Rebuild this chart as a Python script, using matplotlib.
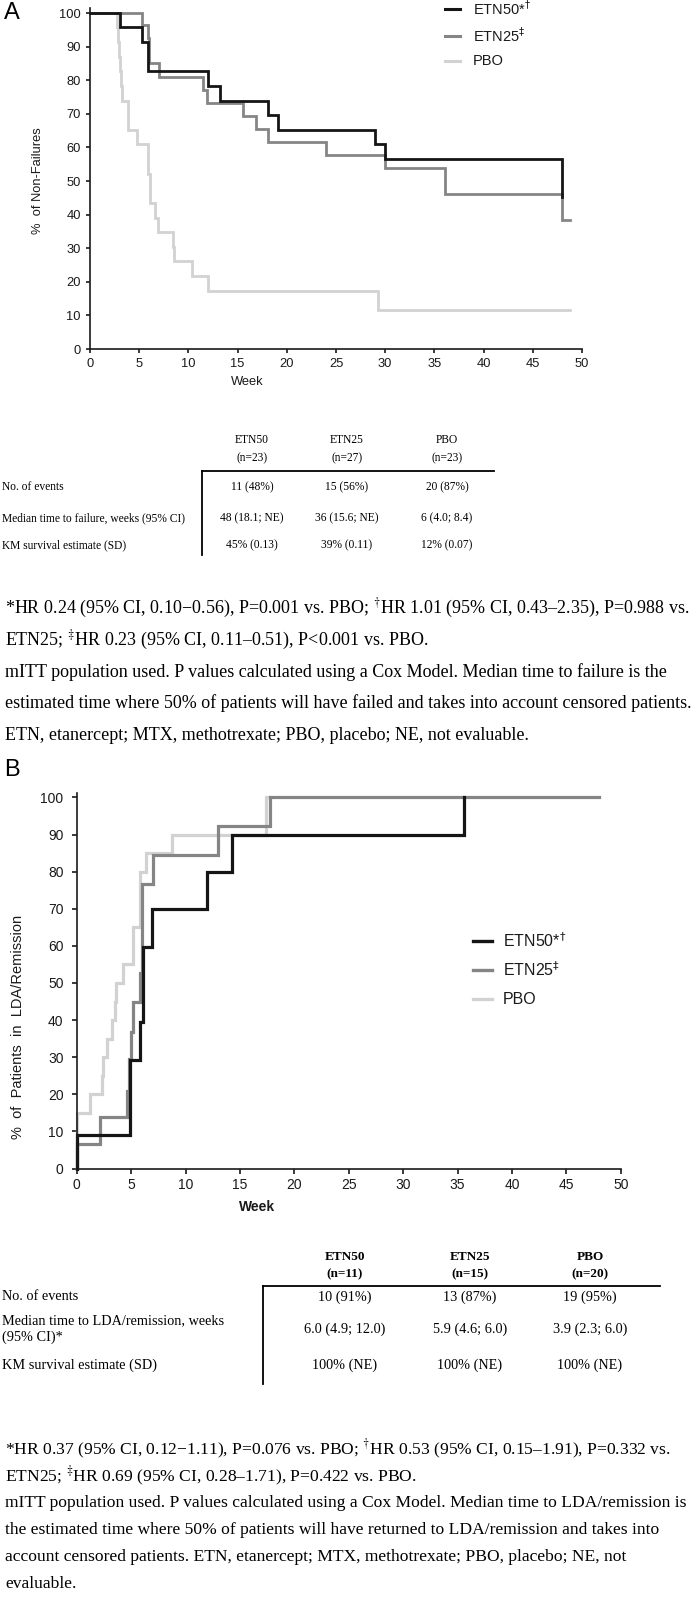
import matplotlib
matplotlib.use('Agg')
import matplotlib.pyplot as plt
from matplotlib.lines import Line2D

W, H = 696, 1598
DPI = 100
fig = plt.figure(figsize=(W / DPI, H / DPI), dpi=DPI)

SANS = 'Liberation Sans'
SERIF = 'Liberation Serif'

# ---------------- data ----------------
series_names = ['ETN50', 'ETN25', 'PBO']
legend_labels = [r'ETN50*$^{\dagger}$', r'ETN25$^{\ddagger}$', 'PBO']
colors = ['#151515', '#858585', '#d2d2d2']

# Panel A: % of non-failures (Kaplan-Meier), weeks
A_etn50_t = [0, 3.05, 5.25, 5.86, 11.96, 13.2, 18.1, 19.1, 28.96, 30.0, 48.0]
A_etn50_s = [100, 95.7, 91.3, 82.6, 78.3, 73.9, 69.6, 65.2, 60.9, 56.5, 45.2]
A_etn50_end = 48.0
A_etn25_t = [0, 5.32, 5.86, 5.95, 7.0, 11.5, 11.9, 15.5, 16.9, 18.1, 23.95, 30.0, 36.1, 48.0]
A_etn25_s = [100, 96.3, 92.6, 85.0, 81.0, 77.2, 73.3, 69.3, 65.5, 61.6, 57.7, 53.9, 46.2, 38.5]
A_etn25_end = 48.8
A_pbo_t = [0, 2.7, 2.85, 2.95, 3.05, 3.15, 3.3, 3.9, 4.8, 5.86, 6.1, 6.6, 6.9, 8.4, 8.5, 10.4, 12.0, 29.3]
A_pbo_s = [100, 95.7, 91.3, 87.0, 82.6, 78.3, 73.9, 65.2, 60.9, 52.2, 43.5, 39.1, 34.8, 30.4, 26.1, 21.7, 17.4, 11.6]
A_pbo_end = 48.8

# Panel B: % of patients in LDA/remission (cumulative), weeks
B_etn50_t = [0, 0, 4.9, 5.8, 6.05, 6.1, 6.9, 12.0, 14.3, 35.6]
B_etn50_s = [0, 9.1, 29.2, 39.5, 52.4, 59.8, 70.0, 80.0, 90.0, 100]
B_etn50_end = 35.6
B_etn25_t = [0, 0, 2.15, 4.6, 4.85, 5.0, 5.2, 5.8, 6.0, 7.0, 13.0, 17.8]
B_etn25_s = [0, 6.7, 13.9, 21.0, 29.5, 36.8, 45.0, 52.6, 76.8, 84.4, 92.4, 100]
B_etn25_end = 48.0
B_pbo_t = [0, 0, 1.2, 2.3, 2.4, 2.75, 3.2, 3.5, 3.6, 4.3, 5.2, 5.8, 6.4, 8.8, 17.4]
B_pbo_s = [0, 15, 20, 25, 30, 35, 40, 45, 50, 55, 65, 80, 85, 90, 100]
B_pbo_end = 17.8

x_ticks = [0, 5, 10, 15, 20, 25, 30, 35, 40, 45, 50]
y_ticks = [0, 10, 20, 30, 40, 50, 60, 70, 80, 90, 100]

# Table A
tabA_cols = ['ETN50\n(n=23)', 'ETN25\n(n=27)', 'PBO\n(n=23)']
tabA_rows = ['No. of events', 'Median time to failure, weeks (95% CI)', 'KM survival estimate (SD)']
tabA_vals = [['11 (48%)', '15 (56%)', '20 (87%)'],
             ['48 (18.1; NE)', '36 (15.6; NE)', '6 (4.0; 8.4)'],
             ['45% (0.13)', '39% (0.11)', '12% (0.07)']]

# Table B
tabB_cols = ['ETN50\n(n=11)', 'ETN25\n(n=15)', 'PBO\n(n=20)']
tabB_rows = ['No. of events', 'Median time to LDA/remission, weeks\n(95% CI)*', 'KM survival estimate (SD)']
tabB_vals = [['10 (91%)', '13 (87%)', '19 (95%)'],
             ['6.0 (4.9; 12.0)', '5.9 (4.6; 6.0)', '3.9 (2.3; 6.0)'],
             ['100% (NE)', '100% (NE)', '100% (NE)']]

notesA = [r'*HR 0.24 (95% CI, 0.10−0.56), P=0.001 vs. PBO; $^{\dagger}$HR 1.01 (95% CI, 0.43–2.35), P=0.988 vs.',
          r'ETN25; $^{\ddagger}$HR 0.23 (95% CI, 0.11–0.51), P<0.001 vs. PBO.',
          'mITT population used. P values calculated using a Cox Model. Median time to failure is the',
          'estimated time where 50% of patients will have failed and takes into account censored patients.',
          'ETN, etanercept; MTX, methotrexate; PBO, placebo; NE, not evaluable.']
notesB = [r'*HR 0.37 (95% CI, 0.12−1.11), P=0.076 vs. PBO; $^{\dagger}$HR 0.53 (95% CI, 0.15–1.91), P=0.332 vs.',
          r'ETN25; $^{\ddagger}$HR 0.69 (95% CI, 0.28–1.71), P=0.422 vs. PBO.',
          'mITT population used. P values calculated using a Cox Model. Median time to LDA/remission is',
          'the estimated time where 50% of patients will have returned to LDA/remission and takes into',
          'account censored patients. ETN, etanercept; MTX, methotrexate; PBO, placebo; NE, not',
          'evaluable.']


# ---------------- helpers ----------------
def fx(x):
    return x / W


def fy(y):
    return 1 - y / H


def ax_rect(l, r, t, b):
    return [l / W, 1 - b / H, (r - l) / W, (b - t) / H]


def hline(x1, x2, y, lw=1.3):
    fig.add_artist(Line2D([fx(x1), fx(x2)], [fy(y), fy(y)], transform=fig.transFigure,
                          color='black', lw=lw))


def vline(x, y1, y2, lw=1.3):
    fig.add_artist(Line2D([fx(x), fx(x)], [fy(y1), fy(y2)], transform=fig.transFigure,
                          color='black', lw=lw))


def style_axes(ax, ylim_top, tick_fs, ypad, xpad, ticklen):
    ax.set_xlim(0, 50)
    ax.set_ylim(0, ylim_top)
    ax.set_xticks(x_ticks)
    ax.set_yticks(y_ticks)
    for s in ['top', 'right']:
        ax.spines[s].set_visible(False)
    for s in ['left', 'bottom']:
        ax.spines[s].set_linewidth(1.2)
        ax.spines[s].set_color('#1a1a1a')
    ax.tick_params(axis='both', direction='out', length=ticklen, width=1.2, color='#1a1a1a',
                   labelsize=tick_fs)
    ax.tick_params(axis='y', pad=ypad)
    ax.tick_params(axis='x', pad=xpad)
    for lab in ax.get_xticklabels() + ax.get_yticklabels():
        lab.set_fontfamily(SANS)
        lab.set_color('#1a1a1a')
    ax.patch.set_alpha(0)


def draw_km(ax, t, s, end, color, lw):
    ax.step(list(t) + [end], list(s) + [s[-1]], where='post', color=color, lw=lw,
            solid_joinstyle='miter', clip_on=False)


# ---------------- Panel A ----------------
fig.text(fx(4), fy(13), 'A', fontsize=17, family=SANS, va='center', ha='left')
axA = fig.add_axes(ax_rect(90, 582, 8, 349))
style_axes(axA, 101.5, 9.3, 3.5, 3.5, 3)
draw_km(axA, A_pbo_t, A_pbo_s, A_pbo_end, colors[2], 2.0)
draw_km(axA, A_etn25_t, A_etn25_s, A_etn25_end, colors[1], 2.0)
draw_km(axA, A_etn50_t, A_etn50_s, A_etn50_end, colors[0], 2.0)
fig.text(fx(38), fy(181), '%  of Non-Failures', rotation=90, fontsize=9.3, family=SANS,
         ha='center', va='center', color='#1a1a1a')
fig.text(fx(247), fy(382), 'Week', fontsize=9.3, family=SANS, ha='center', va='center',
         color='#1a1a1a')

legA_y = [9, 36, 61]
for lab, col, y in zip(legend_labels, colors, legA_y):
    fig.add_artist(Line2D([fx(445), fx(460)], [fy(y), fy(y)], transform=fig.transFigure,
                          color=col, lw=2.2))
    fig.text(fx(473), fy(y), lab, fontsize=10.5, family=SANS, va='center', ha='left',
             math_fontfamily='dejavusans', color='#1a1a1a')

# Table A
colA_x = [252, 347, 447]
for cx, c in zip(colA_x, tabA_cols):
    l1, l2 = c.split('\n')
    fig.text(fx(cx), fy(440), l1, fontsize=8.3, family=SERIF, ha='center', va='center')
    fig.text(fx(cx), fy(458), l2, fontsize=8.3, family=SERIF, ha='center', va='center')
hline(202, 494, 471)
vline(202, 471, 555)
rowA_y = [487, 518, 545]
for ry, rl, vals in zip(rowA_y, tabA_rows, tabA_vals):
    fig.text(fx(2), fy(ry), rl, fontsize=8.3, family=SERIF, ha='left', va='center')
    for cx, v in zip(colA_x, vals):
        fig.text(fx(cx), fy(ry), v, fontsize=8.3, family=SERIF, ha='center', va='center')

notesA_y = [608, 640, 672, 703, 735]
for ny, t in zip(notesA_y, notesA):
    fig.text(fx(5), fy(ny), t, fontsize=13.0, family=SERIF, ha='left', va='center',
             math_fontfamily='stix')

# ---------------- Panel B ----------------
fig.text(fx(4), fy(770), 'B', fontsize=17, family=SANS, va='center', ha='left')
axB = fig.add_axes(ax_rect(76.7, 620.7, 793, 1168.5))
style_axes(axB, 101.2, 10, 6, 3.5, 3.5)
draw_km(axB, B_pbo_t, B_pbo_s, B_pbo_end, colors[2], 2.3)
draw_km(axB, B_etn25_t, B_etn25_s, B_etn25_end, colors[1], 2.3)
draw_km(axB, B_etn50_t, B_etn50_s, B_etn50_end, colors[0], 2.3)
fig.text(fx(18), fy(1027), '%  of  Patients  in  LDA/Remission', rotation=90, fontsize=10.5,
         family=SANS, ha='center', va='center', color='#1a1a1a')
fig.text(fx(257), fy(1207), 'Week', fontsize=10, family=SANS, ha='center', va='center',
         fontweight='bold', color='#1a1a1a')

legB_y = [941, 970, 999]
for lab, col, y in zip(legend_labels, colors, legB_y):
    fig.add_artist(Line2D([fx(473), fx(492)], [fy(y), fy(y)], transform=fig.transFigure,
                          color=col, lw=2.4))
    fig.text(fx(503), fy(y), lab, fontsize=11.5, family=SANS, va='center', ha='left',
             math_fontfamily='dejavusans', color='#1a1a1a')

# Table B
colB_x = [345, 470, 590]
for cx, c in zip(colB_x, tabB_cols):
    l1, l2 = c.split('\n')
    fig.text(fx(cx), fy(1257), l1, fontsize=9.5, family=SERIF, ha='center', va='center',
             fontweight='bold')
    fig.text(fx(cx), fy(1274), l2, fontsize=9.5, family=SERIF, ha='center', va='center',
             fontweight='bold')
hline(263, 660, 1286)
vline(263, 1286, 1384)
rowB_y = [1297, 1329, 1365]
for i, (ry, rl, vals) in enumerate(zip(rowB_y, tabB_rows, tabB_vals)):
    if '\n' in rl:
        l1, l2 = rl.split('\n')
        fig.text(fx(2), fy(ry - 8.5), l1, fontsize=10.3, family=SERIF, ha='left', va='center')
        fig.text(fx(2), fy(ry + 8.5), l2, fontsize=10.3, family=SERIF, ha='left', va='center')
    else:
        fig.text(fx(2), fy(ry), rl, fontsize=10.3, family=SERIF, ha='left', va='center')
    for cx, v in zip(colB_x, vals):
        fig.text(fx(cx), fy(ry), v, fontsize=10.3, family=SERIF, ha='center', va='center')

notesB_y = [1449, 1476, 1503, 1530, 1557, 1584]
for ny, t in zip(notesB_y, notesB):
    fig.text(fx(5), fy(ny), t, fontsize=12.6, family=SERIF, ha='left', va='center',
             math_fontfamily='stix')

fig.savefig('out.png', dpi=DPI)
